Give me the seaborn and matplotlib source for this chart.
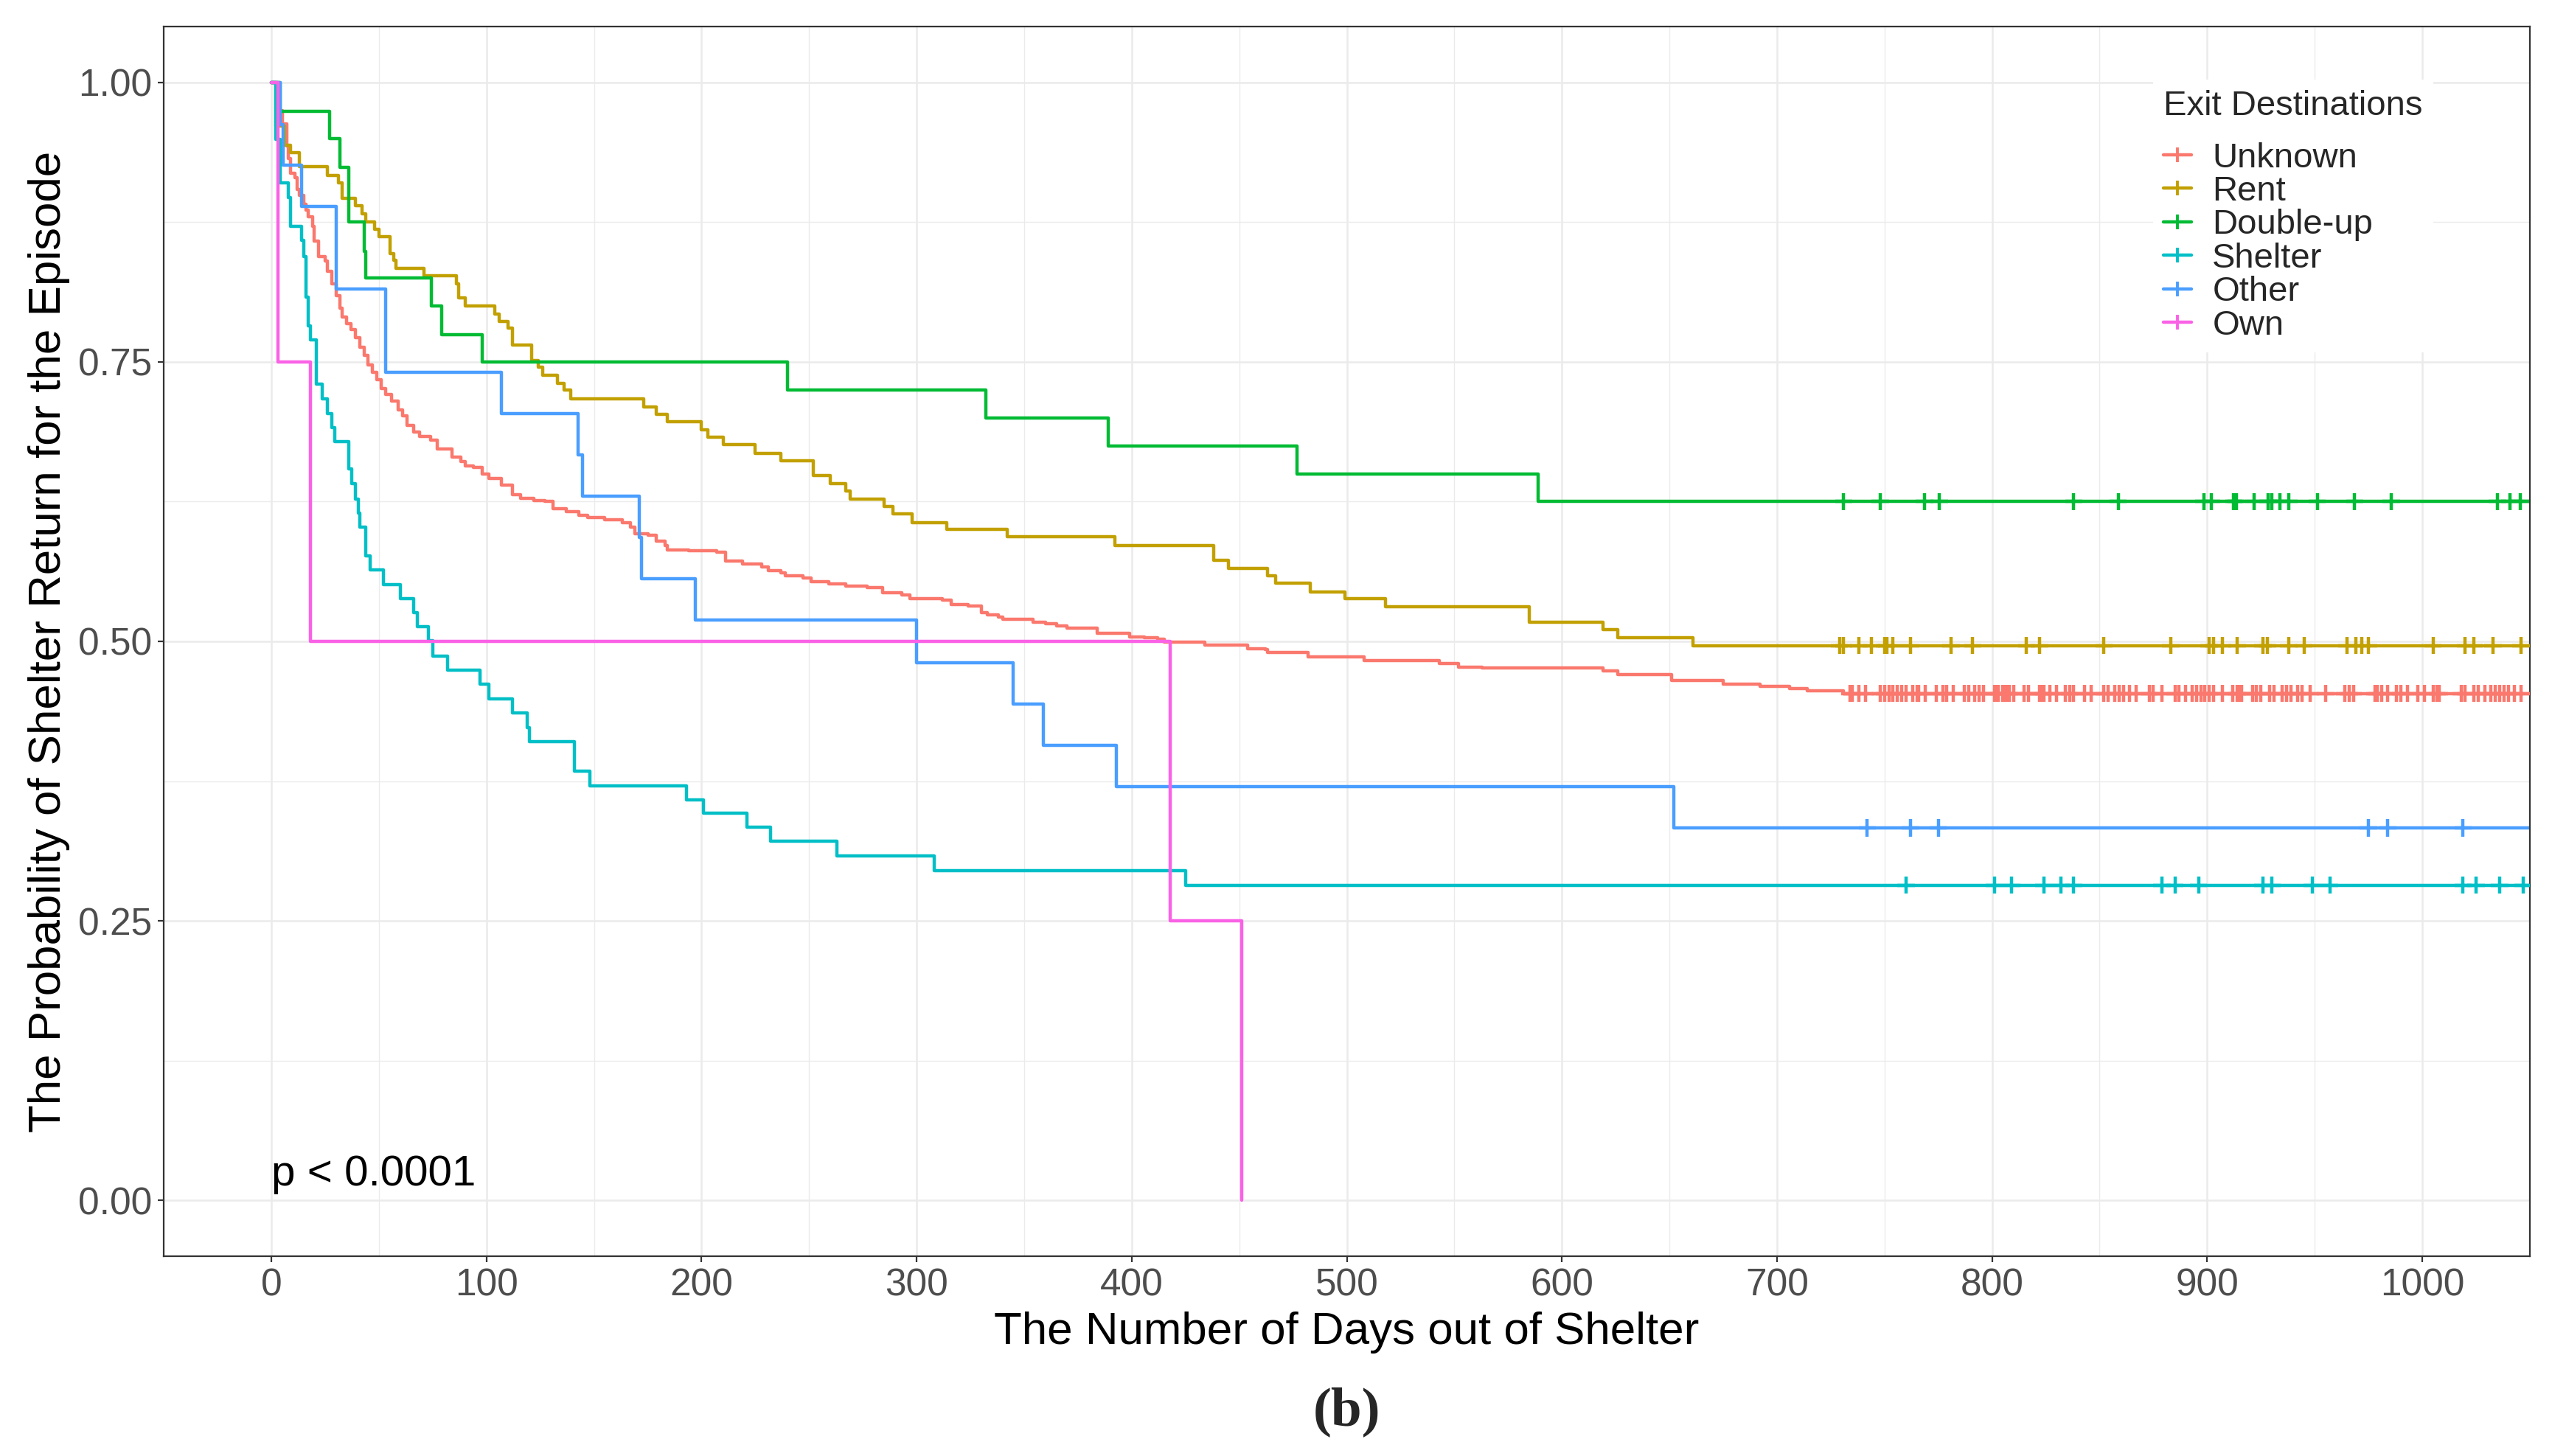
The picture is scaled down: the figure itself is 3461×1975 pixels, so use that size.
import numpy as np
import pandas as pd
import matplotlib
matplotlib.use("Agg")
import matplotlib.pyplot as plt
import seaborn as sns
from matplotlib.lines import Line2D
from matplotlib.ticker import MultipleLocator

# ---------------- data ----------------
groups = ["Unknown", "Rent", "Double-up", "Shelter", "Other", "Own"]
colors = ["#FA786D", "#C2A000", "#00BB33", "#00BFC6", "#4A9EFF", "#FA62E6"]

unk_t = [0, 3, 5, 7, 8, 9, 11, 12, 13, 15, 16, 17, 19, 20, 22, 25, 26, 28, 30, 32,
         33, 35, 37, 39, 41, 43, 45, 47, 49, 51, 53, 56, 59, 61, 63, 66, 69, 74, 77, 84,
         88, 90, 94, 98, 101, 107, 112, 116, 122, 127, 131, 137, 143, 147, 155, 163, 167, 169, 175, 179,
         183, 184, 194, 207, 211, 219, 228, 231, 237, 239, 247, 251, 259, 267, 277, 284, 293, 297, 312, 316,
         324, 330, 333, 338, 340, 354, 360, 365, 370, 384, 399, 406, 412, 415, 434, 454, 462, 463, 482, 508,
         543, 552, 563, 619, 626, 651, 675, 692, 706, 714, 731]
unk_s = [1.0, 0.975, 0.963, 0.943, 0.932, 0.919, 0.915, 0.904, 0.899, 0.891,
         0.886, 0.880, 0.871, 0.858, 0.844, 0.840, 0.831, 0.820, 0.809, 0.798,
         0.790, 0.784, 0.779, 0.772, 0.763, 0.756, 0.747, 0.741, 0.734, 0.726,
         0.721, 0.715, 0.707, 0.702, 0.693, 0.687, 0.683, 0.680, 0.672, 0.665,
         0.661, 0.657, 0.6555, 0.650, 0.646, 0.640, 0.631, 0.628, 0.626, 0.625,
         0.619, 0.616, 0.613, 0.6105, 0.609, 0.606, 0.602, 0.596, 0.595, 0.590,
         0.586, 0.582, 0.581, 0.580, 0.572, 0.569, 0.5666, 0.5633, 0.561, 0.5585,
         0.5567, 0.5534, 0.5512, 0.5495, 0.548, 0.5435, 0.5414, 0.538, 0.537, 0.533,
         0.5315, 0.526, 0.524, 0.5215, 0.520, 0.517, 0.516, 0.514, 0.5116, 0.507,
         0.504, 0.503, 0.5017, 0.4995, 0.4965, 0.4937, 0.4925, 0.490, 0.4863, 0.4831,
         0.480, 0.4771, 0.4763, 0.4733, 0.470, 0.465, 0.462, 0.4597, 0.4575, 0.4555,
         0.4535]

rent_t = [0, 2, 6, 9, 13, 26, 31, 33, 39, 42,
          44, 48, 50, 55, 57, 58, 71, 86, 87, 90,
          104, 106, 110, 112, 121, 124, 126, 133, 136, 139,
          173, 179, 184, 200, 203, 210, 225, 237, 252, 260,
          267, 269, 285, 289, 298, 314, 342, 392, 438, 445,
          463, 467, 483, 499, 518, 585, 619, 626, 661]
rent_s = [1.0, 0.961, 0.944, 0.937, 0.925, 0.9165, 0.910, 0.896, 0.8895, 0.8825,
          0.875, 0.8686, 0.862, 0.847, 0.841, 0.8335, 0.827, 0.820, 0.807, 0.800,
          0.793, 0.786, 0.780, 0.7654, 0.751, 0.7456, 0.738, 0.731, 0.7247, 0.717,
          0.7098, 0.7032, 0.6966, 0.6892, 0.6826, 0.676, 0.6683, 0.6617, 0.6485, 0.6412,
          0.6346, 0.6274, 0.6208, 0.6142, 0.606, 0.600, 0.5934, 0.5855, 0.5726, 0.565,
          0.5589, 0.552, 0.5442, 0.538, 0.5313, 0.5173, 0.5106, 0.503, 0.4963]

dbl_t = [0, 4, 27, 32, 36, 43, 44, 74.5, 79, 98, 240, 332, 389, 477, 589]
dbl_s = [1.0, 0.974, 0.950, 0.924, 0.875, 0.849, 0.825, 0.800, 0.774, 0.750,
         0.725, 0.700, 0.675, 0.650, 0.625]

shl_t = [0, 2, 4, 8, 9, 14, 15, 16, 17, 18,
         21, 23.5, 26, 28, 29.5, 36, 37.5, 39, 40.3, 41,
         44, 46, 52, 60, 66, 68, 73, 75, 82, 97,
         101, 112, 119, 120, 141, 148, 193, 201, 221, 232,
         263, 308, 425]
shl_s = [1.0, 0.949, 0.910, 0.897, 0.871, 0.859, 0.8445, 0.808, 0.782, 0.770,
         0.730, 0.717, 0.704, 0.691, 0.679, 0.654, 0.641, 0.627, 0.615, 0.602,
         0.5765, 0.564, 0.5505, 0.538, 0.5255, 0.513, 0.5007, 0.487, 0.474, 0.4616,
         0.4486, 0.436, 0.4227, 0.410, 0.384, 0.371, 0.358, 0.3465, 0.334, 0.321,
         0.308, 0.295, 0.282]

oth_t = [0, 4, 5.5, 14, 30, 53, 107, 142.7, 144.8, 171, 172, 197, 300, 345, 359, 393, 652]
oth_s = [1.0, 0.962, 0.926, 0.889, 0.815, 0.741, 0.704, 0.667, 0.630, 0.593,
         0.556, 0.519, 0.481, 0.444, 0.407, 0.370, 0.333]

own_t = [0, 3, 18, 418, 451]
own_s = [1.0, 0.75, 0.50, 0.25, 0.0]

# censoring times
unk_cens = [734, 735, 738, 741, 748, 750, 752, 754, 756, 758, 760, 763, 765, 766, 769,
            774, 777, 779, 782, 787, 789, 792, 794, 796, 801, 802, 803, 805, 806, 807,
            808, 810, 815, 817, 822, 823, 824, 827, 830, 834, 836, 838, 843, 846, 852,
            854, 857, 859, 861, 864, 867, 873, 875, 879, 885, 887, 890, 893, 895, 897,
            899, 901, 903, 907, 912, 914, 915, 916, 921, 923, 925, 929, 931, 935, 937,
            939, 942, 944, 948, 955, 964, 966, 968, 978, 979, 981, 984, 988, 990, 993,
            998, 1001, 1005, 1007, 1008, 1018, 1020, 1024, 1026, 1029, 1032, 1034, 1036,
            1038, 1040, 1043, 1046]
rent_cens = [729, 731, 738, 744, 750, 751, 754, 762, 781, 791, 816, 822, 852, 883, 901,
             903, 907, 914, 926, 928, 938, 945, 965, 969, 972, 975, 1005, 1020, 1024,
             1033, 1046]
dbl_cens = [731, 748, 768.5, 775.5, 838, 858.6, 898.5, 902, 912.4, 913.5, 921.8, 928.3,
            929.9, 933.8, 938, 951.2, 968.6, 985.6, 1035, 1040.7, 1045.5]
shl_cens = [760, 801, 809, 824, 832, 838, 879, 885, 896, 926, 930, 949, 957, 1019,
            1025, 1036, 1047]
oth_cens = [742, 762, 775, 975, 984, 1019]
own_cens = []

max_followup = 1056  # observation continues past the plotted window

x_ticks = [0, 100, 200, 300, 400, 500, 600, 700, 800, 900, 1000]
y_ticks = [0.00, 0.25, 0.50, 0.75, 1.00]
y_tick_labels = ["0.00", "0.25", "0.50", "0.75", "1.00"]
p_text = "p < 0.0001"

# ---------------- build tables ----------------
curve_t = [unk_t, rent_t, dbl_t, shl_t, oth_t, own_t]
curve_s = [unk_s, rent_s, dbl_s, shl_s, oth_s, own_s]
cens = [unk_cens, rent_cens, dbl_cens, shl_cens, oth_cens, own_cens]

rows, crow = [], []
for g, t, s, c in zip(groups, curve_t, curve_s, cens):
    t = list(t); s = list(s)
    if s[-1] > 0:
        t.append(max_followup); s.append(s[-1])
    for ti, si in zip(t, s):
        rows.append((g, ti, si))
    ta = np.array(t); sa = np.array(s)
    for ci in c:
        idx = np.searchsorted(ta, ci, side="right") - 1
        crow.append((g, ci, sa[idx]))
curve_df = pd.DataFrame(rows, columns=["group", "day", "surv"])
cens_df = pd.DataFrame(crow, columns=["group", "day", "surv"])
pal = dict(zip(groups, colors))

# ---------------- plot ----------------
sns.set_theme(style="whitegrid")
plt.rcParams["font.family"] = ["Liberation Sans", "DejaVu Sans"]

W, H, DPI = 3462, 1975, 200
fig = plt.figure(figsize=(W / DPI, H / DPI), dpi=DPI)
ax = fig.add_axes([0.0642, 0.1372, 0.991 - 0.0642, 0.9818 - 0.1372])
ax.set_facecolor("white")

LW = 1.6
sns.lineplot(data=curve_df, x="day", y="surv", hue="group", hue_order=groups,
             palette=pal, drawstyle="steps-post", estimator=None, sort=False,
             linewidth=LW, legend=False, ax=ax)
sns.scatterplot(data=cens_df, x="day", y="surv", hue="group", hue_order=groups,
                palette=pal, marker="+", s=72, linewidth=1.6, legend=False,
                ax=ax, zorder=3)

ax.set_xlim(-50, 1050)
ax.set_ylim(-0.05, 1.05)
ax.set_xticks(x_ticks)
ax.set_xticklabels([str(v) for v in x_ticks])
ax.set_yticks(y_ticks)
ax.set_yticklabels(y_tick_labels)
ax.xaxis.set_minor_locator(MultipleLocator(50))
ax.yaxis.set_minor_locator(MultipleLocator(0.125))
ax.set_axisbelow(True)
ax.grid(which="major", color="#EBEBEB", linewidth=0.9)
ax.grid(which="minor", color="#EBEBEB", linewidth=0.5)
for sp in ax.spines.values():
    sp.set_visible(True)
    sp.set_color("#333333")
    sp.set_linewidth(0.8)
ax.tick_params(which="major", direction="out", length=2.9, width=0.8,
               color="#333333", labelsize=18.5, labelcolor="#4D4D4D",
               bottom=True, left=True)
ax.tick_params(axis="x", pad=2.8)
ax.tick_params(axis="y", pad=3.0)
ax.tick_params(which="minor", length=0)

ax.set_xlabel("The Number of Days out of Shelter", fontsize=22.3, color="black")
ax.set_ylabel("The Probability of Shelter Return for the Episode", fontsize=22.3,
              color="black")
ax.xaxis.label.set_verticalalignment("baseline")
ax.xaxis.set_label_coords(0.5, -0.0715)
ax.yaxis.label.set_verticalalignment("center")
ax.yaxis.set_label_coords(-0.0487, 0.5)

ax.text(0, 0.013, p_text, fontsize=21, color="black", ha="left", va="baseline")

handles = [Line2D([0], [0], color=c, lw=LW, marker="+", markersize=7.5,
                  markeredgewidth=1.4) for c in colors]
leg = ax.legend(handles, groups, title="Exit Destinations", loc="upper left",
                bbox_to_anchor=(2920 / W, 1 - 108 / H), bbox_transform=fig.transFigure,
                frameon=True, facecolor="white", edgecolor="none", framealpha=1,
                fontsize=17, title_fontsize=17, handlelength=0.8,
                handletextpad=0.6, labelspacing=0.03, borderpad=0.3,
                borderaxespad=0, alignment="left", fancybox=False)
leg._legend_box.sep = 9.5

fig.text(0.5277, 0.0304, "(b)", fontsize=27, fontweight="bold",
         family=["Liberation Serif", "DejaVu Serif"], ha="center", va="center")

fig.savefig("out.png", dpi=DPI)
